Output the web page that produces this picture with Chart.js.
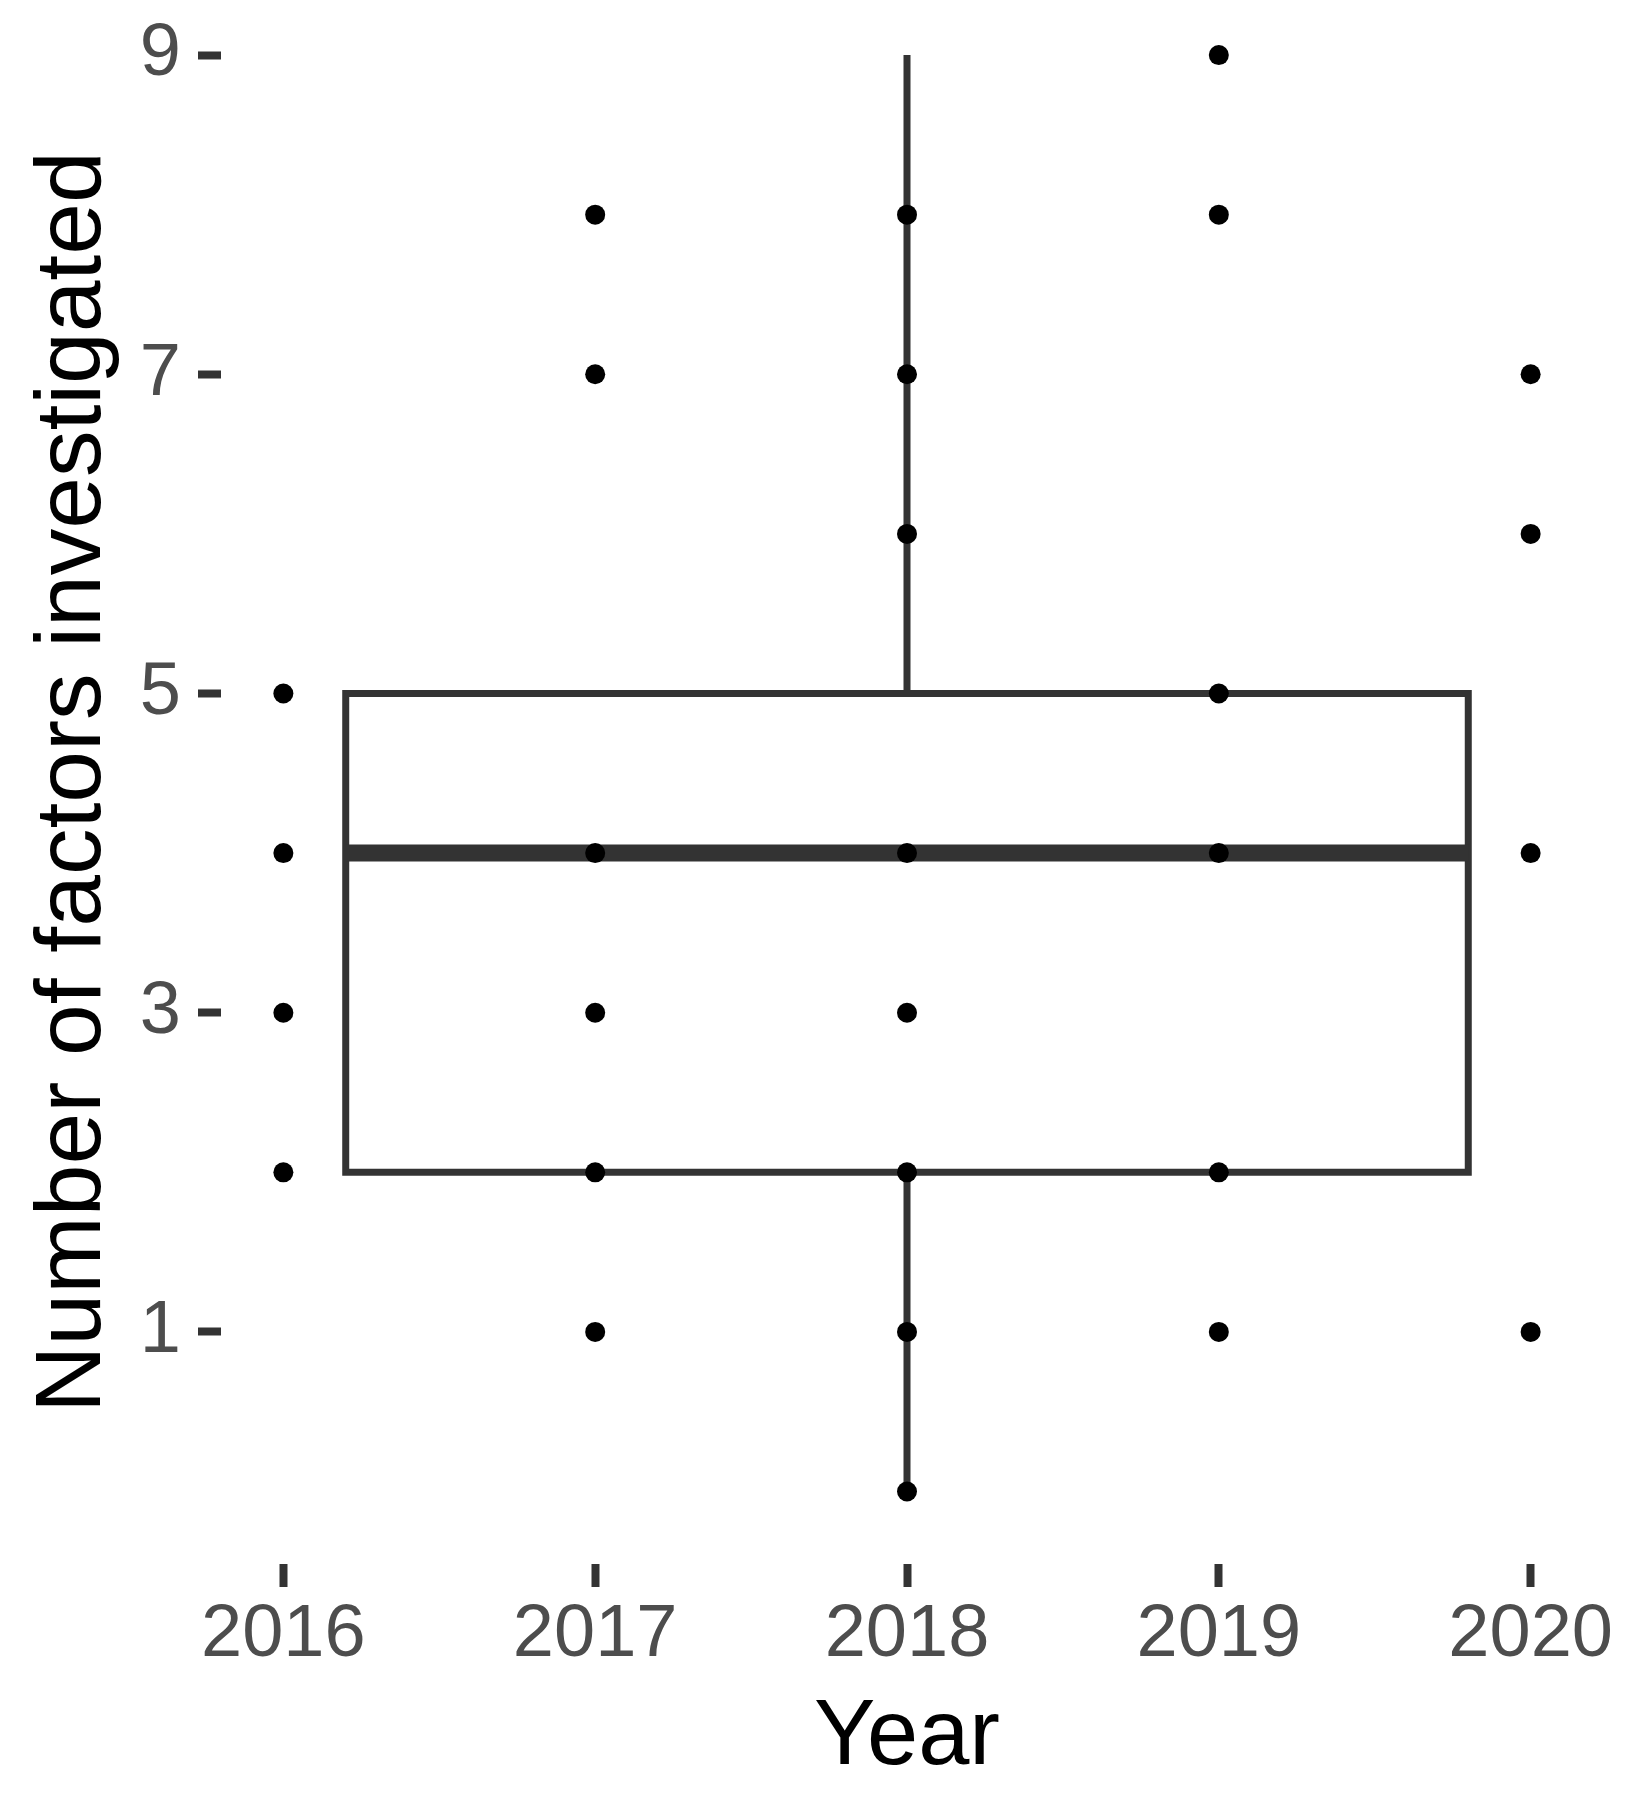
<!DOCTYPE html>
<html>
<head>
<meta charset="utf-8">
<script src="https://cdn.jsdelivr.net/npm/chart.js@4.4.1/dist/chart.umd.min.js"></script>
<style>
  html, body { margin: 0; padding: 0; background: #fff; }
  #wrap { width: 1640px; height: 1797px; }
</style>
</head>
<body>
<div id="wrap"><canvas id="chart" width="1640" height="1797"></canvas></div>
<script>
// Datos
const years = [2016, 2017, 2018, 2019, 2020];
const yTicks = [1, 3, 5, 7, 9];
const values2016 = [2, 3, 4, 5];
const values2017 = [1, 2, 3, 4, 7, 8];
const values2018 = [0, 1, 2, 3, 4, 6, 7, 8];
const values2019 = [1, 2, 4, 5, 8, 9];
const values2020 = [1, 4, 6, 7];
// min, q1, mediana, q3, max
const boxStats = [0, 2, 4, 5, 9];
const boxCenter = 2018;
const boxWidth = 3.6;

const FONT = '"Liberation Sans", Arial, sans-serif';

// Puntos por año
const valuesByYear = [values2016, values2017, values2018, values2019, values2020];
const points = [];
years.forEach((yr, i) => {
    valuesByYear[i].forEach(v => points.push({ x: yr, y: v }));
});

const [wMin, q1, med, q3, wMax] = boxStats;
const xL = boxCenter - boxWidth / 2;
const xR = boxCenter + boxWidth / 2;

function lineSet(data, width) {
    return {
        type: 'line',
        data: data,
        borderColor: '#333333',
        borderWidth: width,
        pointRadius: 0,
        fill: false,
        tension: 0,
        borderJoinStyle: 'miter',
        borderCapStyle: 'butt'
    };
}

const boxRect = lineSet([
    { x: xL, y: q1 }, { x: xL, y: q3 }, { x: xR, y: q3 },
    { x: xR, y: q1 }, { x: xL, y: q1 }, { x: xL, y: q3 }
], 7);
const medianLine = lineSet([{ x: xL, y: med }, { x: xR, y: med }], 17);
const upperWhisker = lineSet([{ x: boxCenter, y: q3 }, { x: boxCenter, y: wMax }], 7);
const lowerWhisker = lineSet([{ x: boxCenter, y: q1 }, { x: boxCenter, y: wMin }], 7);

// Quitar el relleno automático que Chart.js añade por las etiquetas
function noPad(s) {
    s.paddingTop = 0;
    s.paddingBottom = 0;
    s.paddingLeft = 0;
    s.paddingRight = 0;
}

const ctx = document.getElementById('chart').getContext('2d');
new Chart(ctx, {
    type: 'scatter',
    data: {
        datasets: [
            {
                data: points,
                backgroundColor: '#000000',
                borderWidth: 0,
                pointRadius: 10,
                pointHoverRadius: 10
            },
            medianLine,
            boxRect,
            upperWhisker,
            lowerWhisker
        ]
    },
    options: {
        responsive: false,
        animation: false,
        devicePixelRatio: 1,
        layout: { autoPadding: false, padding: { left: 0, right: 47, top: 0, bottom: 0 } },
        plugins: { legend: { display: false }, tooltip: { enabled: false } },
        scales: {
            x: {
                type: 'linear',
                min: 2015.8,
                max: 2020.2,
                afterBuildTicks: s => { s.ticks = years.map(v => ({ value: v })); },
                afterFit: s => { s.height = 233; noPad(s); },
                grid: { drawOnChartArea: false, drawTicks: true, tickLength: 23, tickWidth: 8, tickColor: '#333333' },
                border: { display: false },
                ticks: {
                    callback: v => String(v),
                    autoSkip: false, maxRotation: 0,
                    color: '#4d4d4d',
                    font: { family: FONT, size: 74, lineHeight: 1 },
                    padding: 12
                },
                title: {
                    display: true, text: 'Year', color: '#000000',
                    font: { family: FONT, size: 92, lineHeight: 1 },
                    padding: { top: 0, bottom: 12 }
                }
            },
            y: {
                type: 'linear',
                min: -0.454,
                max: 9.345,
                afterBuildTicks: s => { s.ticks = yTicks.map(v => ({ value: v })); },
                afterFit: s => { s.width = 221; noPad(s); },
                grid: { drawOnChartArea: false, drawTicks: true, tickLength: 23, tickWidth: 8, tickColor: '#333333' },
                border: { display: false },
                ticks: {
                    callback: v => String(v),
                    color: '#4d4d4d',
                    font: { family: FONT, size: 74, lineHeight: 1 },
                    padding: 17
                },
                title: {
                    display: true, text: 'Number of factors investigated', color: '#000000',
                    font: { family: FONT, size: 93, lineHeight: 1 },
                    padding: { top: 28, bottom: 0 }
                }
            }
        }
    }
});
</script>
</body>
</html>
